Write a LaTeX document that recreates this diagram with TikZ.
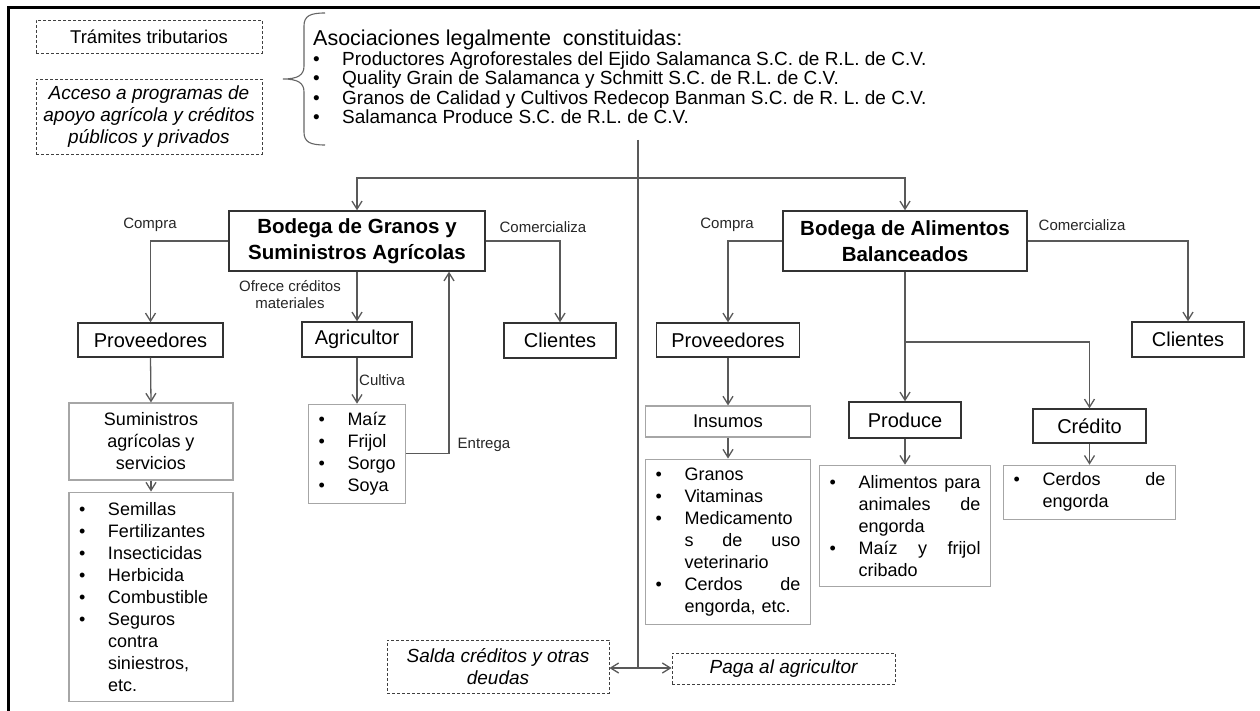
\documentclass[tikz,border=0pt]{standalone}
\usepackage{fontspec}
\setmainfont{Liberation Sans}
\usetikzlibrary{arrows.meta,positioning}

\newcommand{\bul}{\makebox[29pt][l]{\textbullet}}
\newcommand{\ind}{\hspace*{29pt}}
\newcommand{\just}[2]{\hbox to #1{#2}}

\begin{document}
\begin{tikzpicture}[
        x = 1pt, y = -1pt, % pixel coordinates
        > = {Straight Barb[length=8pt,width=10pt]}, % open arrow head
        linea/.style = {draw=black!65, line width=1.3pt},
        flecha/.style = {linea, ->},
        caja/.style = {draw=black!80, line width=1.4pt, fill=white, inner sep=0pt,
            align=center, font=\fontsize{20}{24}\selectfont},
        bodega/.style = {caja, font=\bfseries\fontsize{20.5}{26}\selectfont},
        clara/.style = {caja, draw=black!35, line width=1.1pt, font=\fontsize{18}{22}\selectfont},
        lista/.style = {draw=black!35, line width=1.1pt, inner xsep=10pt, inner ysep=0pt,
            align=left, font=\fontsize{18}{22}\selectfont},
        nota/.style = {draw=black!75, dash pattern=on 3pt off 2pt, line width=0.9pt, inner sep=0pt,
            align=center, font=\itshape\fontsize{19}{22}\selectfont},
        etiqueta/.style = {inner sep=1pt, text=black!85, font=\fontsize{15}{17}\selectfont}
    ]

    \useasboundingbox (0,0) rectangle (1260,711);
    \draw[line width=3pt] (8,711) -- (8,8) -- (1260,8);

    % Cabecera
    \node[nota, font=\upshape\fontsize{18.5}{22}\selectfont, minimum width=226pt, minimum height=33pt]
        (tramites) at (149,36.5) {Trámites tributarios};
    \node[nota, minimum width=226pt, minimum height=75pt]
        (acceso) at (149,116.5) {Acceso a programas de\\apoyo agrícola y créditos\\públicos y privados};
    \draw[draw=black!60, line width=1.1pt] (325,13) .. controls (310,13) and (304,16) .. (304,26)
        -- (304,66) .. controls (304,75) and (298,79) .. (283,79)
        .. controls (298,79) and (304,83) .. (304,92)
        -- (304,132) .. controls (304,142) and (310,145) .. (325,145);
    \node[anchor=north west, inner sep=0pt, align=left, font=\fontsize{19}{19.5}\selectfont]
        (asoc) at (313,30) {{\fontsize{21.5}{21}\selectfont Asociaciones legalmente\ \ constituidas:}\\
        \bul Productores Agroforestales del Ejido Salamanca S.C. de R.L. de C.V.\\
        \bul Quality Grain de Salamanca y Schmitt S.C. de R.L. de C.V.\\
        \bul Granos de Calidad y Cultivos Redecop Banman S.C. de R. L. de C.V.\\
        \bul Salamanca Produce S.C. de R.L. de C.V.};

    % Bodegas
    \node[bodega, minimum width=256pt, minimum height=60pt] (bg) at (357,241) {Bodega de Granos y\\Suministros Agrícolas};
    \node[bodega, minimum width=244pt, minimum height=60pt] (ba) at (905,241) {Bodega de Alimentos\\Balanceados};

    % Segundo nivel
    \node[caja, minimum width=145pt, minimum height=34pt] (provG) at (150.5,340) {Proveedores};
    \node[caja, minimum width=110pt, minimum height=35pt] (agr) at (357,339.5) {Agricultor};
    \node[caja, minimum width=112pt, minimum height=35pt] (cliG) at (560,340.5) {Clientes};
    \node[caja, minimum width=143pt, minimum height=34pt] (provA) at (728,340) {Proveedores};
    \node[caja, minimum width=112pt, minimum height=35pt] (cliA) at (1188,339.5) {Clientes};

    % Tercer nivel
    \node[clara, minimum width=164pt, minimum height=77pt] (sum) at (151,441.5) {Suministros\\agrícolas y\\servicios};
    \node[lista, text width=144pt, minimum height=209pt, below=11pt of sum] (sumlista)
        {\bul Semillas\\ \bul Fertilizantes\\ \bul Insecticidas\\ \bul Herbicida\\ \bul Combustible\\
         \bul Seguros\\ \ind contra\\ \ind siniestros,\\ \ind etc.};
    \node[lista, text width=77pt, minimum height=99pt, below=46pt of agr] (cultivos)
        {\bul Maíz\\ \bul Frijol\\ \bul Sorgo\\ \bul Soya};
    \node[clara, font=\fontsize{18.5}{22}\selectfont, minimum width=165pt, minimum height=31pt] (insumos) at (728,421.5) {Insumos};
    \node[lista, text width=145pt, minimum height=165pt, below=21pt of insumos] (insumoslista)
        {\bul Granos\\ \bul Vitaminas\\ \bul Medicamento\\ \ind\just{116pt}{s\hfill de\hfill uso}\\ \ind veterinario\\
         \bul\just{116pt}{Cerdos\hfill de}\\ \ind engorda, etc.};
    \node[caja, minimum width=112pt, minimum height=36pt] (produce) at (905,420) {Produce};
    \node[lista, text width=151pt, minimum height=121pt, below=26pt of produce] (producelista)
        {\bul\just{122pt}{Alimentos\hfill para}\\ \ind\just{122pt}{animales\hfill de}\\ \ind engorda\\
         \bul\just{122pt}{Maíz\hfill y\hfill frijol}\\ \ind cribado};
    \node[caja, minimum width=113pt, minimum height=34pt] (credito) at (1089.5,426) {Crédito};
    \node[lista, text width=152pt, minimum height=54pt, below=21pt of credito] (creditolista)
        {\bul\just{123pt}{Cerdos\hfill de}\\ \ind engorda};

    % Pie
    \node[nota, minimum width=222pt, minimum height=53pt] (salda) at (498,666.5) {Salda créditos y otras\\deudas};
    \node[nota, minimum width=223pt, minimum height=31pt] (paga) at (783.5,668.5) {Paga al agricultor};

    % Etiquetas
    \node[etiqueta] (compraG) at (150,225) {Compra};
    \node[etiqueta] (comercG) at (543,227) {Comercializa};
    \node[etiqueta, align=center] (ofrece) at (290,295) {Ofrece créditos\\materiales};
    \node[etiqueta, anchor=west] (cultiva) at (358,380) {Cultiva};
    \node[etiqueta] (entrega) at (484,445) {Entrega};
    \node[etiqueta] (compraA) at (727,225) {Compra};
    \node[etiqueta] (comercA) at (1082,225) {Comercializa};

    % Conectores
    \coordinate (tronco) at (638,140);
    \coordinate (reparto) at (638,178);
    \coordinate (base) at (638,668);
    \coordinate (division) at (905,342);

    \draw[linea] (tronco) -- (base);
    \draw[flecha] (reparto) -| (bg.north);
    \draw[flecha] (reparto) -| (ba.north);
    \draw[flecha] (bg.west) -| (provG.north);
    \draw[flecha] (bg.south) -- (agr.north);
    \draw[flecha] (bg.east) -| (cliG.north);
    \draw[flecha] (agr.south) -- (cultivos.north);
    \draw[flecha] (cultivos.east) -| ([xshift=92pt]bg.south);
    \draw[flecha] (provG.south) -- (sum.north);
    \draw[flecha] (sum.south) -- (sumlista.north);
    \draw[flecha] (ba.west) -| (provA.north);
    \draw[flecha] (ba.east) -| (cliA.north);
    \draw[flecha] (provA.south) -- (insumos.north);
    \draw[flecha] (insumos.south) -- (insumoslista.north);
    \draw[linea] (ba.south) -- (division);
    \draw[flecha] (division) -- (produce.north);
    \draw[flecha] (division) -| (credito.north);
    \draw[flecha] (produce.south) -- (producelista.north);
    \draw[flecha] (credito.south) -- (creditolista.north);
    \draw[flecha] (base) -- (base -| salda.east);
    \draw[flecha] (base) -- (base -| paga.west);

\end{tikzpicture}
\end{document}
